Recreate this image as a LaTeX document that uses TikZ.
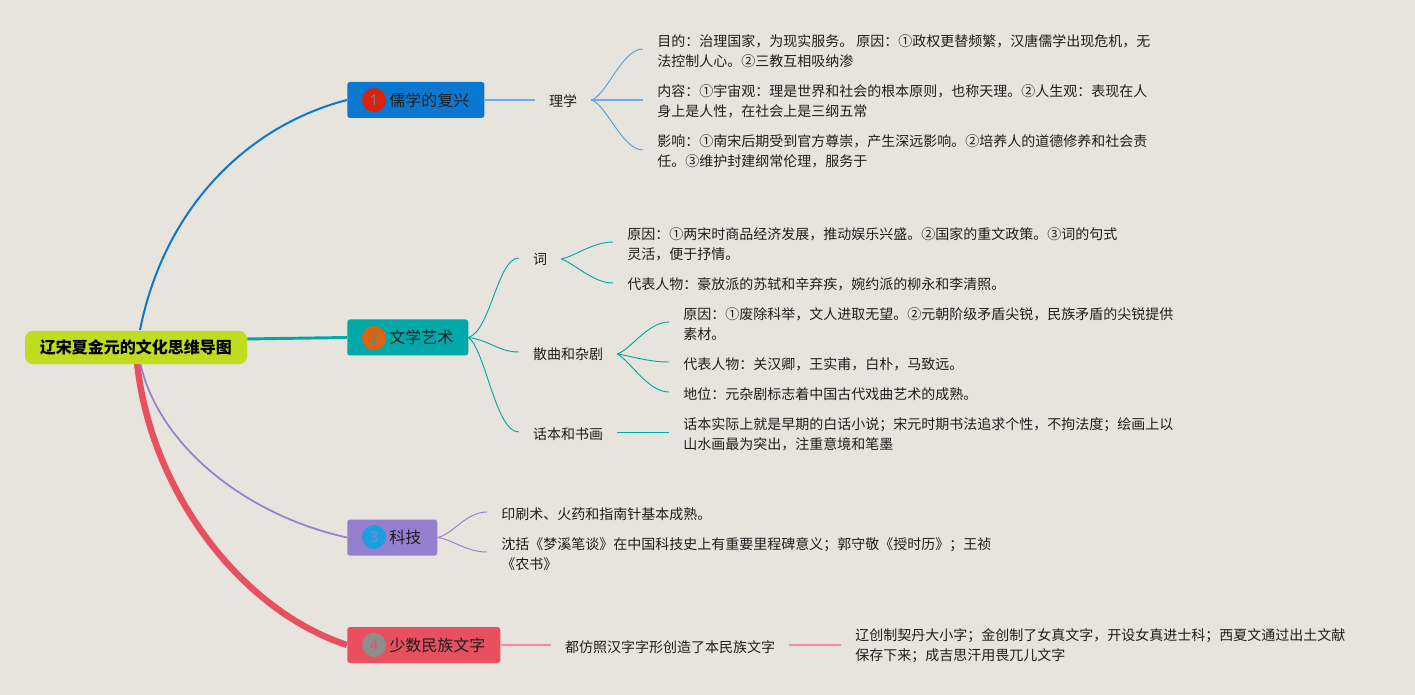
\documentclass[tikz,border=0pt]{standalone}
\usepackage{fontspec}
\setmainfont{Noto Sans CJK SC}
\newfontfamily\numfont{Noto Sans}
\definecolor{bgc}{HTML}{E6E4DC}
\definecolor{rootc}{HTML}{BFDD1E}
\definecolor{bluec}{HTML}{0A78D0}
\definecolor{tealc}{HTML}{00A8A8}
\definecolor{purpc}{HTML}{9580D0}
\definecolor{redc}{HTML}{E8505F}
\definecolor{inkc}{HTML}{1E1E1E}
\definecolor{badgea}{HTML}{D9230F}
\definecolor{badgeb}{HTML}{E0620F}
\definecolor{badgec}{HTML}{1A9FE0}
\definecolor{badged}{HTML}{8E8E8E}
\tikzset{
  rootbox/.style={fill=rootc,rounded corners=6pt,text=black,minimum width=166.5pt,minimum height=25pt,inner sep=0pt,font=\fontsize{12}{14}\selectfont\bfseries},
  branchbox/.style={rounded corners=2pt,minimum height=27pt,inner sep=0pt,anchor=west,text=inkc,font=\fontsize{12}{14}\selectfont},
  branchtext/.style={anchor=west,inner sep=0pt,text=inkc,font=\fontsize{12}{14}\selectfont},
  badge/.style={circle,minimum size=18pt,inner sep=0pt,font=\fontsize{11}{12}\selectfont\numfont},
  midtext/.style={text=inkc,inner xsep=10.5pt,inner ysep=0pt,font=\fontsize{10.5}{15}\selectfont},
  leaf/.style={text=inkc,anchor=west,align=left,inner xsep=10.5pt,inner ysep=0pt,font=\fontsize{10.5}{15}\selectfont},
  fork/.style={line width=0.7pt},
  stem/.style={line width=0.9pt}
}
\begin{document}
\begin{tikzpicture}[x=0.75pt,y=-0.75pt]
\useasboundingbox[fill=bgc] (0,0) rectangle (1415,695);
% branches
\node[branchbox,fill=bluec,minimum width=102.75pt] (b1) at (347,100) {};
\node[branchbox,fill=tealc,minimum width=90.75pt] (b2) at (347,337.5) {};
\node[branchbox,fill=purpc,minimum width=67.5pt] (b3) at (347,537.5) {};
\node[branchbox,fill=redc,minimum width=114.75pt] (b4) at (347,645) {};
\node[badge,fill=badgea,text=gray] (c1) at (374,100) {1};
\node[badge,fill=badgeb,text=tealc!60!gray] (c2) at (374,338) {2};
\node[badge,fill=badgec,text=purpc] (c3) at (374,537) {3};
\node[badge,fill=badged,text=redc] (c4) at (374,645) {4};
\node[branchtext] (t1) at (389,100) {儒学的复兴};
\node[branchtext] (t2) at (389,337.5) {文学艺术};
\node[branchtext] (t3) at (389,537.5) {科技};
\node[branchtext] (t4) at (389,645) {少数民族文字};
% root
\coordinate (r1) at (140,330);
\coordinate (r3) at (140,362);
\coordinate (r4) at (137,362);
\draw[redc,line width=4.8pt] (r4) .. controls (150,490) and (240,610) .. (b4.west);
\draw[purpc,line width=1.3pt] (r3) .. controls (158,445) and (245,515) .. (b3.west);
\draw[bluec,line width=1.5pt] (r1) .. controls (165,205) and (250,125) .. (b1.west);
\node[rootbox] (root) at (136,347.5) {辽宋夏金元的文化思维导图};
\draw[tealc,line width=2.2pt] ([yshift=6.4pt]root.east) -- (b2.west);
% level 2
\node[midtext] (lx) at (563,101) {理学};
\node[midtext] (ci) at (540,259) {词};
\node[midtext] (sq) at (568,354) {散曲和杂剧};
\node[midtext] (hb) at (568,434) {话本和书画};
\node[midtext] (fang) at (670,647) {都仿照汉字字形创造了本民族文字};
% leaves
\node[leaf] (l1) at (643,51.5) {目的：治理国家，为现实服务。 原因：①政权更替频繁，汉唐儒学出现危机，无\\法控制人心。②三教互相吸纳渗};
\node[leaf] (l2) at (643,101) {内容：①宇宙观：理是世界和社会的根本原则，也称天理。②人生观：表现在人\\身上是人性，在社会上是三纲五常};
\node[leaf] (l3) at (643,151) {影响：①南宋后期受到官方尊崇，产生深远影响。②培养人的道德修养和社会责\\任。③维护封建纲常伦理，服务于};
\node[leaf] (c11) at (613,244) {原因：①两宋时商品经济发展，推动娱乐兴盛。②国家的重文政策。③词的句式\\灵活，便于抒情。};
\node[leaf] (c12) at (613,284) {代表人物：豪放派的苏轼和辛弃疾，婉约派的柳永和李清照。};
\node[leaf] (s1) at (669,324) {原因：①废除科举，文人进取无望。②元朝阶级矛盾尖锐，民族矛盾的尖锐提供\\素材。};
\node[leaf] (s2) at (669,364) {代表人物：关汉卿，王实甫，白朴，马致远。};
\node[leaf] (s3) at (669,394) {地位：元杂剧标志着中国古代戏曲艺术的成熟。};
\node[leaf] (h1) at (669,434) {话本实际上就是早期的白话小说；宋元时期书法追求个性，不拘法度；绘画上以\\山水画最为突出，注重意境和笔墨};
\node[leaf] (k1) at (487,514) {印刷术、火药和指南针基本成熟。};
\node[leaf] (k2) at (487,554) {沈括《梦溪笔谈》在中国科技史上有重要里程碑意义；郭守敬《授时历》；王祯\\《农书》};
\node[leaf] (m1) at (841,646) {辽创制契丹大小字；金创制了女真文字，开设女真进士科；西夏文通过出土文献\\保存下来；成吉思汗用畏兀儿文字};
% connectors
\draw[bluec!60!white,stem] (b1.east) -- (lx.west |- b1.east);
\begin{scope}[bluec!70!white,fork]
\draw (lx.east |- b1.east) .. controls +(15,-4) and +(-21,0) .. ([yshift=1.9pt]l1.west);
\draw[line width=1.1pt,bluec!60!white] (lx.east |- b1.east) -- ([yshift=0.75pt]l2.west);
\draw (lx.east |- b1.east) .. controls +(15,4) and +(-21,0) .. ([yshift=0.75pt]l3.west);
\end{scope}
\begin{scope}[tealc,fork]
\draw (b2.east) .. controls +(22,-7) and +(-21,0) .. ([yshift=0.75pt]ci.west);
\draw (b2.east) .. controls +(22,3) and +(-20,0) .. ([yshift=1.5pt]sq.west);
\draw (b2.east) .. controls +(17,13) and +(-23,0) .. ([yshift=1.5pt]hb.west);
\draw (ci.east) .. controls +(14,-3) and +(-20,0) .. ([yshift=1.5pt]c11.west);
\draw (ci.east) .. controls +(14,5) and +(-20,0) .. ([yshift=0.75pt]c12.west);
\draw (sq.east) .. controls +(14,-5) and +(-21,0) .. ([yshift=1.5pt]s1.west);
\draw (sq.east) .. controls +(14,2) and +(-21,0) .. ([yshift=1.5pt]s2.west);
\draw (sq.east) .. controls +(14,8) and +(-21,0) .. ([yshift=1.5pt]s3.west);
\draw ([yshift=1.5pt]hb.east) -- ([yshift=1.5pt]h1.west);
\end{scope}
\begin{scope}[purpc,fork]
\draw (b3.east) .. controls +(15,-3) and +(-21,0) .. ([yshift=1.5pt]k1.west);
\draw (b3.east) .. controls +(15,2) and +(-21,0) .. ([yshift=1.5pt]k2.west);
\end{scope}
\begin{scope}[redc!65!white,stem]
\draw (b4.east) -- (fang.west |- b4.east);
\draw (fang.east |- b4.east) -- (m1.west |- b4.east);
\end{scope}
\end{tikzpicture}
\end{document}
